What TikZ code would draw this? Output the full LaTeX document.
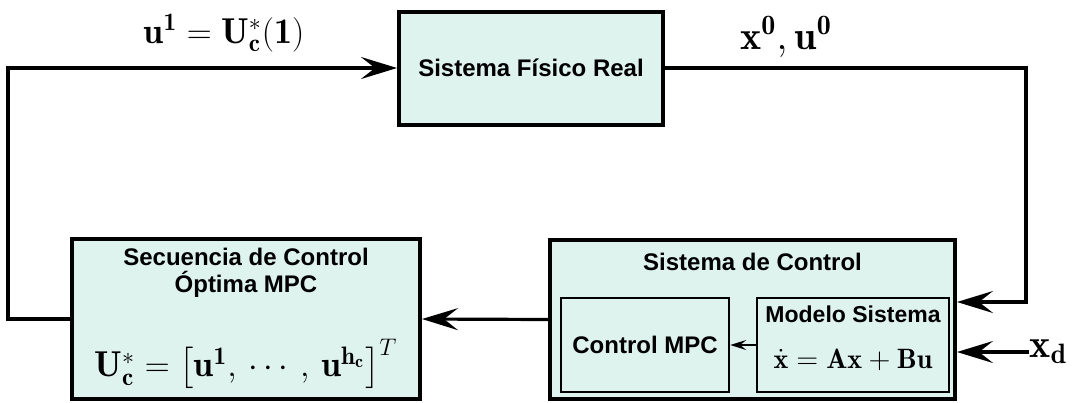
\documentclass[tikz,border=0pt]{standalone}
\usepackage{fontspec}
\newfontfamily\helvfont{Liberation Sans}
\usepackage{amsmath}
\usepackage{tikz}
\usetikzlibrary{arrows.meta,positioning}
\definecolor{boxmint}{HTML}{DFF3EE}

\begin{document}
\begin{tikzpicture}[x=0.5pt, y=-0.5pt,
  block/.style={draw, line width=2pt, fill=boxmint, inner sep=0pt},
  subblock/.style={draw, line width=1.2pt, fill=boxmint, inner sep=0pt},
  title/.style={font=\helvfont\fontsize{12}{13.5}\selectfont\bfseries, align=center, inner sep=0pt},
  biglbl/.style={font=\fontsize{18}{21}\selectfont, inner sep=0pt},
  sig/.style={->, >={Stealth[length=18pt, width=11pt, inset=7pt]}, line width=1.6pt},
  smallsig/.style={->, >={Stealth[length=8pt, width=5pt, inset=3pt]}, line width=1pt}]
\useasboundingbox (0,0) rectangle (1074,402);
\node[block, minimum width=132pt, minimum height=56.5pt, title] (real) at (531,68) {Sistema Físico Real};
\node[block, minimum width=174pt, minimum height=80pt] (seq) at (246,319) {};
\node[block, minimum width=202.5pt, minimum height=79.5pt] (ctrl) at (752.5,319.5) {};
\node[subblock, minimum width=84pt, minimum height=47pt, title] (mpc) at (645,345) {Control MPC};
\node[subblock, minimum width=96pt, minimum height=47pt] (model) at (853,345) {};
%==========
\node[title] (seqtitle) at (246,273) {Secuencia de Control\\Óptima MPC};
\node[biglbl] (seqmath) at (246,364) {$\mathbf{U}_{\mathbf{c}}^{*}=\left[\mathbf{u}^{\mathbf{1}},\,\cdots,\,\mathbf{u}^{\mathbf{h_c}}\right]^{T}$};
\node[title] (ctrltitle) at (752.5,262) {Sistema de Control};
\node[title, font=\helvfont\fontsize{11.5}{13}\selectfont\bfseries] (modeltitle) at (853,314) {Modelo Sistema};
\node[biglbl, font=\fontsize{14}{17}\selectfont] (modelmath) at (853,360) {$\dot{\mathbf{x}}=\mathbf{A}\mathbf{x}+\mathbf{B}\mathbf{u}$};
\node[biglbl] (ulbl) at (224,33) {$\mathbf{u}^{\mathbf{1}}=\mathbf{U}_{\mathbf{c}}^{*}(\mathbf{1})$};
\node[biglbl, font=\fontsize{20}{23}\selectfont] (xulbl) at (786,37) {$\mathbf{x}^{\mathbf{0}},\mathbf{u}^{\mathbf{0}}$};
\node[biglbl, font=\fontsize{20}{23}\selectfont, anchor=west] (xd) at (1029,352) {$\mathbf{x}_{\mathbf{d}}$};
%==========
\draw[sig] (seq.west) -- ++(-62,0) |- (real.west);
\draw[sig] (real.east) -- ++(361,0) |- ([yshift=8.75pt]ctrl.east);
\draw[sig] (xd.west) -- (ctrl.east |- xd.west);
\draw[sig] (ctrl.west) -- (seq.east);
\draw[smallsig] (model.west) -- (mpc.east);
\end{tikzpicture}
\end{document}
